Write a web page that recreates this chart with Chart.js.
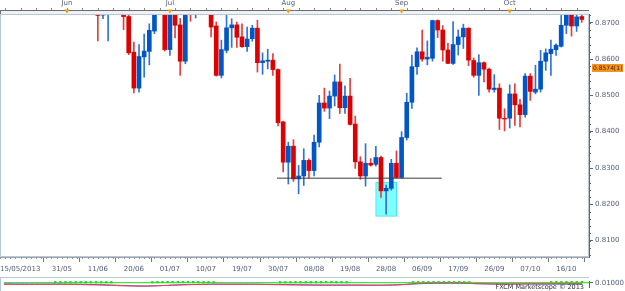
<!DOCTYPE html>
<html><head><meta charset="utf-8">
<script src="https://cdn.jsdelivr.net/npm/chart.js@4.4.1/dist/chart.umd.min.js"></script>
<style>
html,body{margin:0;padding:0;background:#fff;}
#wrap{position:relative;width:625px;height:291px;overflow:hidden;background:#fff;}
#c1{position:absolute;left:0;top:0;}
#c2{position:absolute;left:0;top:277px;}
</style></head><body>
<div id="wrap"><canvas id="c1" width="625" height="277"></canvas><canvas id="c2" width="625" height="14"></canvas></div>
<script>
// ---- data ----
const dates = [
'15/05','16/05','17/05','20/05','21/05','22/05','23/05','24/05','27/05','28/05','29/05','30/05','31/05',
'03/06','04/06','05/06','06/06','07/06','10/06','11/06','12/06','13/06','14/06','17/06','18/06','19/06','20/06','21/06','24/06','25/06','26/06','27/06','28/06',
'01/07','02/07','03/07','04/07','05/07','08/07','09/07','10/07','11/07','12/07','15/07','16/07','17/07','18/07','19/07','22/07','23/07','24/07','25/07','26/07','29/07','30/07','31/07',
'01/08','02/08','05/08','06/08','07/08','08/08','09/08','12/08','13/08','14/08','15/08','16/08','19/08','20/08','21/08','22/08','23/08','26/08','27/08','28/08','29/08','30/08',
'02/09','03/09','04/09','05/09','06/09','09/09','10/09','11/09','12/09','13/09','16/09','17/09','18/09','19/09','20/09','23/09','24/09','25/09','26/09','27/09','30/09',
'01/10','02/10','03/10','04/10','07/10','08/10','09/10','10/10','11/10','14/10','15/10','16/10','17/10','18/10','21/10'
];
const N = null;
const open = [N,N,N,N,N,N,N,N,N,N,N,N,N,N,N,N,N,N,N,
0.8735,0.8721,0.8730,N,N,0.8740,0.8717,0.8619,0.8520,0.8606,0.8621,0.8677,N,0.8760,
0.8626,0.8750,0.8694,0.8594,0.8760,0.8730,N,N,0.8750,0.8691,0.8555,0.8624,0.8686,0.8694,0.8661,0.8634,0.8656,0.8685,0.8590,0.8594,0.8597,0.8571,0.8427,
0.8316,0.8360,0.8270,0.8278,0.8321,0.8293,0.8371,0.8479,0.8465,0.8498,0.8537,0.8466,0.8498,0.8421,0.8317,0.8278,0.8313,0.8310,0.8329,0.8237,0.8244,0.8313,
0.8274,0.8384,0.8481,0.8579,0.8620,0.8600,0.8602,0.8706,0.8680,0.8625,0.8588,0.8640,0.8661,0.8685,0.8596,0.8555,0.8590,0.8572,0.8516,0.8520,0.8437,
0.8437,0.8504,0.8474,0.8447,0.8553,0.8509,0.8517,0.8594,0.8615,0.8626,0.8635,0.8693,0.8722,0.8691,0.8717];
const high = [N,N,N,N,N,N,N,N,N,N,N,N,N,N,N,N,N,N,N,
0.8745,0.8750,0.8770,N,N,0.8750,0.8722,0.8647,0.8640,0.8669,0.8697,0.8760,N,0.8770,
0.8760,0.8760,0.8712,0.8760,0.8770,0.8780,N,N,0.8760,0.8702,0.8652,0.8722,0.8711,0.8702,0.8697,0.8688,0.8693,0.8707,0.8617,0.8627,0.8615,0.8573,0.8429,
0.8371,0.8378,0.8307,0.8353,0.8325,0.8391,0.8500,0.8520,0.8512,0.8556,0.8586,0.8526,0.8547,0.8443,0.8331,0.8367,0.8326,0.8360,0.8333,0.8253,0.8324,0.8347,
0.8400,0.8506,0.8611,0.8631,0.8680,0.8650,0.8707,0.8708,0.8692,0.8643,0.8703,0.8680,0.8696,0.8686,0.8603,0.8612,0.8592,0.8575,0.8557,0.8532,0.8463,
0.8529,0.8532,0.8489,0.8560,0.8560,0.8583,0.8624,0.8628,0.8652,0.8642,0.8720,0.8735,0.8730,0.8721,0.8722];
const low = [N,N,N,N,N,N,N,N,N,N,N,N,N,N,N,N,N,N,N,
0.8650,0.8711,0.8650,N,N,0.8681,0.8612,0.8507,0.8509,0.8550,0.8584,0.8670,N,0.8622,
0.8610,0.8658,0.8555,0.8587,0.8704,0.8713,N,N,0.8661,0.8553,0.8548,0.8617,0.8632,0.8632,0.8632,0.8621,0.8649,0.8564,0.8558,0.8573,0.8555,0.8416,0.8289,
0.8256,0.8263,0.8229,0.8252,0.8272,0.8278,0.8358,0.8456,0.8436,0.8471,0.8450,0.8450,0.8418,0.8299,0.8269,0.8250,0.8305,0.8305,0.8219,0.8173,0.8239,0.8273,
0.8272,0.8377,0.8464,0.8558,0.8594,0.8584,0.8594,0.8659,0.8594,0.8587,0.8585,0.8611,0.8629,0.8582,0.8550,0.8500,0.8537,0.8509,0.8509,0.8406,0.8402,
0.8410,0.8417,0.8413,0.8440,0.8486,0.8504,0.8509,0.8569,0.8555,0.8610,0.8633,0.8670,0.8663,0.8676,0.8701];
const close = [N,N,N,N,N,N,N,N,N,N,N,N,N,N,N,N,N,N,N,
0.8720,0.8740,0.8760,N,N,0.8717,0.8617,0.8520,0.8607,0.8622,0.8679,0.8750,N,0.8626,
0.8750,0.8693,0.8594,0.8750,0.8730,0.8770,N,N,0.8688,0.8555,0.8626,0.8686,0.8694,0.8660,0.8634,0.8655,0.8685,0.8590,0.8595,0.8597,0.8571,0.8425,0.8316,
0.8360,0.8270,0.8278,0.8321,0.8293,0.8371,0.8479,0.8465,0.8498,0.8537,0.8466,0.8498,0.8420,0.8317,0.8278,0.8313,0.8308,0.8329,0.8237,0.8244,0.8313,0.8274,
0.8384,0.8481,0.8579,0.8620,0.8600,0.8605,0.8706,0.8680,0.8625,0.8588,0.8640,0.8661,0.8685,0.8597,0.8555,0.8590,0.8572,0.8517,0.8520,0.8437,0.8435,
0.8504,0.8474,0.8447,0.8553,0.8511,0.8517,0.8594,0.8617,0.8627,0.8638,0.8693,0.8721,0.8691,0.8716,0.8709];

const xTickLabels = ['15/05/2013','31/05','11/06','20/06','01/07','10/07','19/07','30/07','08/08','19/08','28/08','06/09','17/09','26/09','07/10','16/10'];
const monthLabels = ['Jun','Jul','Aug','Sep','Oct'];
const monthStarts = ['03/06','01/07','01/08','02/09','01/10'];
const yTickValues = [0.81,0.82,0.83,0.84,0.85,0.86,0.87];
const supportLevel = 0.8272;
const supportFrom = '30/07', supportTo = '12/09';
const boxDates = ['26/08','30/08'];
const boxRange = [0.8167, 0.8261];
const markerValue = 0.8574, markerText = '0.8574[1]';

// indicator panel
const indLevel = 0.01;
const indBlue = [0.0087,0.0087,0.0086,0.0086,0.0086,0.0085,0.0085,0.0085,0.0085,0.0085,
0.0085,0.0085,0.0084,0.0084,0.0084,0.0083,0.0082,0.0081,0.0080,0.0079,
0.0077,0.0075,0.0073,0.0071,0.0069,0.0067,0.0066,0.0065,0.0065,0.0066,
0.0068,0.0070,0.0072,0.0074,0.0076,0.0078,0.0079,0.0080,0.0081,0.0082,
0.0083,0.0083,0.0084,0.0084,0.0084,0.0084,0.0084,0.0084,0.0084,0.0084,
0.0084,0.0083,0.0083,0.0082,0.0082,0.0081,0.0080,0.0079,0.0078,0.0077,
0.0076,0.0076,0.0075,0.0075,0.0075,0.0075,0.0075,0.0075,0.0075,0.0075,
0.0075,0.0074,0.0074,0.0074,0.0074,0.0075,0.0076,0.0077,0.0080,0.0083,
0.0086,0.0089,0.0091,0.0093,0.0094,0.0095,0.0095,0.0096,0.0096,0.0095,
0.0094,0.0092,0.0090,0.0089,0.0088,0.0087,0.0086,0.0086,0.0086,0.0086,
0.0086,0.0086,0.0086,0.0086,0.0086,0.0085,0.0085,0.0085,0.0085,0.0085,
0.0085,0.0085,0.0085,0.0085];
const indRed = [0.0083,0.0083,0.0082,0.0082,0.0082,0.0082,0.0083,0.0083,0.0083,0.0083,
0.0083,0.0083,0.0083,0.0082,0.0081,0.0080,0.0078,0.0077,0.0076,0.0075,
0.0073,0.0071,0.0069,0.0067,0.0066,0.0065,0.0064,0.0064,0.0064,0.0065,
0.0067,0.0069,0.0071,0.0074,0.0076,0.0078,0.0080,0.0081,0.0082,0.0083,
0.0083,0.0084,0.0084,0.0084,0.0083,0.0083,0.0083,0.0083,0.0083,0.0083,
0.0082,0.0081,0.0080,0.0079,0.0078,0.0077,0.0076,0.0076,0.0075,0.0075,
0.0074,0.0074,0.0074,0.0073,0.0073,0.0073,0.0073,0.0073,0.0073,0.0073,
0.0073,0.0073,0.0073,0.0073,0.0073,0.0074,0.0075,0.0077,0.0080,0.0084,
0.0088,0.0092,0.0094,0.0096,0.0097,0.0098,0.0098,0.0098,0.0097,0.0096,
0.0095,0.0093,0.0091,0.0089,0.0088,0.0087,0.0086,0.0086,0.0086,0.0086,
0.0087,0.0087,0.0088,0.0088,0.0088,0.0089,0.0089,0.0089,0.0090,0.0090,
0.0090,0.0090,0.0090,0.0090];
const indGreen = [N,N,N,N,N,N,N,N,N,N,
0.0105,0.0105,0.0105,0.0105,0.0105,0.0105,0.0105,0.0105,0.0105,0.0105,
0.0105,0.0105,N,N,N,N,N,N,N,0.0105,
0.0106,0.0107,0.0108,0.0108,0.0108,0.0108,0.0108,0.0107,0.0106,0.0105,
0.0105,0.0105,N,N,N,N,N,N,N,N,
N,N,N,N,0.0105,0.0105,0.0105,0.0105,0.0105,0.0105,
0.0105,0.0106,0.0106,0.0107,0.0107,0.0106,0.0106,0.0105,N,N,
N,N,N,N,N,N,N,N,N,N,
0.0105,0.0106,0.0107,0.0108,0.0108,0.0108,0.0108,0.0108,0.0107,0.0106,
0.0105,0.0105,N,N,N,N,N,N,N,N,
N,N,N,N,N,N,N,0.0105,0.0106,0.0106,
0.0106,0.0106,0.0106,0.0106];

// ---- helpers ----
const idx = d => dates.indexOf(d);
const xMin = 0, xMax = 114.4;
const yMin = 0.8055, yMax = 0.8724;
const FONT = "'DejaVu Sans', sans-serif";
const LABEL_COLOR = '#55607a';
const UP = '#0056c6', DOWN = '#dc0000', UPW = '#2f74d2', DOWNW = '#e63c3c';
const noPad = s => { s.paddingTop = 0; s.paddingBottom = 0; s.paddingLeft = 0; s.paddingRight = 0; };

const bodyData = [], wickData = [];
for (let i = 0; i < dates.length; i++) {
  if (open[i] == null) continue;
  const up = close[i] >= open[i];
  bodyData.push({x: i, y: [open[i], close[i]], up});
  wickData.push({x: i, y: [low[i], high[i]], up});
}
const boxC = (idx(boxDates[0]) + idx(boxDates[1])) / 2;

const xTickMap = {};
xTickLabels.forEach(l => { xTickMap[idx(l.slice(0,5))] = l; });
const monthMap = {};
monthLabels.forEach((m,k) => { monthMap[idx(monthStarts[k])] = m; });

const decor1 = {
  id: 'decor1',
  afterDraw(chart) {
    const {ctx, chartArea: a, scales} = chart;
    const xs = scales.x, ys = scales.y;
    ctx.save();
    // top strip
    ctx.fillStyle = '#eef1f5';
    ctx.fillRect(0, 11, a.right, a.top - 11);
    ctx.strokeStyle = '#6c6c6c'; ctx.lineWidth = 1;
    ctx.beginPath(); ctx.moveTo(0, 10.5); ctx.lineTo(a.right, 10.5); ctx.stroke();
    ctx.beginPath(); ctx.moveTo(0.5, 10); ctx.lineTo(0.5, a.top); ctx.stroke();
    ctx.strokeStyle = '#888';
    for (let i = 1; i < dates.length; i += 3) {
      const x = Math.round(xs.getPixelForValue(i)) + 0.5;
      ctx.beginPath(); ctx.moveTo(x, 8); ctx.lineTo(x, 10); ctx.stroke();
    }
    // plot frame
    ctx.strokeStyle = '#b9c6d4';
    ctx.strokeRect(0.5, a.top + 0.5, a.right - 1, a.bottom - a.top - 1);
    // month markers
    ctx.fillStyle = '#f4a000';
    monthStarts.forEach(d => {
      const x = xs.getPixelForValue(idx(d));
      ctx.beginPath(); ctx.moveTo(x - 2.5, 9.5); ctx.lineTo(x + 2.5, 9.5); ctx.lineTo(x, 13.5); ctx.closePath(); ctx.fill();
    });
    // minor y ticks
    ctx.strokeStyle = '#666';
    for (let k = 0; k <= 40; k++) {
      const v = 0.806 + k * 0.002;
      if (v > yMax) break;
      const y = Math.round(ys.getPixelForValue(v)) + 0.5;
      ctx.beginPath(); ctx.moveTo(a.right, y); ctx.lineTo(a.right + 2, y); ctx.stroke();
    }
    // minor x ticks (one per session)
    ctx.strokeStyle = '#9a9a9a';
    for (let i = 0; i < dates.length; i++) {
      const x = Math.round(xs.getPixelForValue(i)) + 0.5;
      ctx.beginPath(); ctx.moveTo(x, a.bottom); ctx.lineTo(x, a.bottom + 2); ctx.stroke();
    }
    // first date label, left aligned
    ctx.fillStyle = LABEL_COLOR;
    ctx.font = "7px " + FONT;
    ctx.textBaseline = 'top'; ctx.textAlign = 'left';
    ctx.fillText(xTickLabels[0], 0, a.bottom + 9);
    // price marker
    const my = ys.getPixelForValue(markerValue);
    ctx.fillStyle = '#f7931e';
    ctx.fillRect(a.right + 3, Math.round(my) - 4, 31, 8);
    ctx.fillStyle = '#3a2a10';
    ctx.font = "6px " + FONT;
    ctx.textBaseline = 'middle';
    ctx.fillText(markerText, a.right + 4, Math.round(my));
    ctx.restore();
  }
};

new Chart(document.getElementById('c1'), {
  type: 'bar',
  data: { datasets: [
    { type: 'line', label: 'support', data: [{x: idx(supportFrom) - 0.2, y: supportLevel}, {x: idx(supportTo) - 0.2, y: supportLevel}],
      borderColor: '#3a3a3a', borderWidth: 1, pointRadius: 0, order: 0 },
    { label: 'body', data: bodyData, grouped: false, barThickness: 4, clip: 0, order: 1,
      backgroundColor: c => (c.raw && c.raw.up) ? UP : DOWN },
    { label: 'wick', data: wickData, grouped: false, barThickness: 1, clip: 0, order: 2,
      backgroundColor: c => (c.raw && c.raw.up) ? UPW : DOWNW },
    { label: 'box', data: [{x: boxC, y: boxRange}], grouped: false, barThickness: 21, order: 3,
      backgroundColor: '#80ffff', borderColor: '#3fe3ee', borderWidth: 1, borderSkipped: false }
  ]},
  options: {
    responsive: false, animation: false, devicePixelRatio: 1,
    layout: {padding: 0},
    plugins: {legend: {display: false}, tooltip: {enabled: false}},
    scales: {
      x: { type: 'linear', min: xMin, max: xMax, offset: false, position: 'bottom',
        afterBuildTicks: s => { s.ticks = xTickLabels.slice(1).map(l => ({value: idx(l)})); },
        afterFit: s => { s.height = 20; noPad(s); },
        ticks: { autoSkip: false, maxRotation: 0, padding: 3, color: LABEL_COLOR, font: {family: FONT, size: 7},
          callback: v => xTickMap[v] || '' },
        grid: { drawOnChartArea: false, tickLength: 5, tickColor: '#777' },
        border: { color: '#9aa6b4' } },
      xTop: { type: 'linear', min: xMin, max: xMax, offset: false, position: 'top',
        afterBuildTicks: s => { s.ticks = monthStarts.map(d => ({value: idx(d)})); },
        afterFit: s => { s.height = 14; noPad(s); },
        ticks: { autoSkip: false, maxRotation: 0, padding: 7, color: LABEL_COLOR, font: {family: FONT, size: 7},
          callback: v => monthMap[v] || '' },
        grid: { display: false, drawTicks: false, tickLength: 0 }, border: { display: false } },
      y: { type: 'linear', position: 'right', min: yMin, max: yMax,
        afterBuildTicks: s => { s.ticks = yTickValues.map(v => ({value: v})); },
        afterFit: s => { s.width = 36; noPad(s); },
        ticks: { padding: 2, color: LABEL_COLOR, font: {family: FONT, size: 7}, callback: v => v.toFixed(4) },
        grid: { drawOnChartArea: false, tickLength: 4, tickColor: '#666' },
        border: { color: '#666' } }
    }
  },
  plugins: [decor1]
});

const decor2 = {
  id: 'decor2',
  afterDraw(chart) {
    const {ctx, chartArea: a} = chart;
    ctx.save();
    ctx.strokeStyle = '#b9c6d4';
    ctx.beginPath(); ctx.moveTo(0, 0.5); ctx.lineTo(a.right, 0.5); ctx.stroke();
    ctx.beginPath(); ctx.moveTo(0.5, 0); ctx.lineTo(0.5, 14); ctx.stroke();
    ctx.fillStyle = '#333';
    ctx.font = "6.5px " + FONT;
    ctx.textAlign = 'right'; ctx.textBaseline = 'middle';
    ctx.fillText('FXCM Marketscope \u00a9 2013', 584, 10.5);
    ctx.restore();
  }
};

const indPts = arr => arr.map((v, i) => v == null ? null : {x: i, y: v}).filter(p => p);
new Chart(document.getElementById('c2'), {
  type: 'line',
  data: { datasets: [
    { label: 'signal', data: indPts(indGreen), showLine: false, pointStyle: 'rect', pointRadius: 1.6, pointBackgroundColor: '#14e014', pointBorderWidth: 0, order: 0 },
    { label: 'red', data: indPts(indRed), borderColor: '#ff3b3b', borderWidth: 1, pointRadius: 0, order: 1 },
    { label: 'blue', data: indPts(indBlue), borderColor: '#3a4bff', borderWidth: 1, pointRadius: 0, order: 2 },
    { label: 'level', data: [{x: xMin, y: indLevel}, {x: xMax, y: indLevel}], borderColor: '#14e014', borderWidth: 1, pointRadius: 0, order: 3 }
  ]},
  options: {
    responsive: false, animation: false, devicePixelRatio: 1,
    layout: {padding: 0},
    plugins: {legend: {display: false}, tooltip: {enabled: false}},
    scales: {
      x: { type: 'linear', min: xMin, max: xMax, display: false },
      y: { type: 'linear', position: 'right', min: 0.00544, max: 0.0118,
        afterBuildTicks: s => { s.ticks = [{value: indLevel}]; },
        afterFit: s => { s.width = 36; noPad(s); },
        ticks: { padding: 2, color: LABEL_COLOR, font: {family: FONT, size: 7}, callback: v => v.toFixed(5) },
        grid: { drawOnChartArea: false, tickLength: 4, tickColor: '#666' },
        border: { color: '#666' } }
    }
  },
  plugins: [decor2]
});
</script>
</body></html>
